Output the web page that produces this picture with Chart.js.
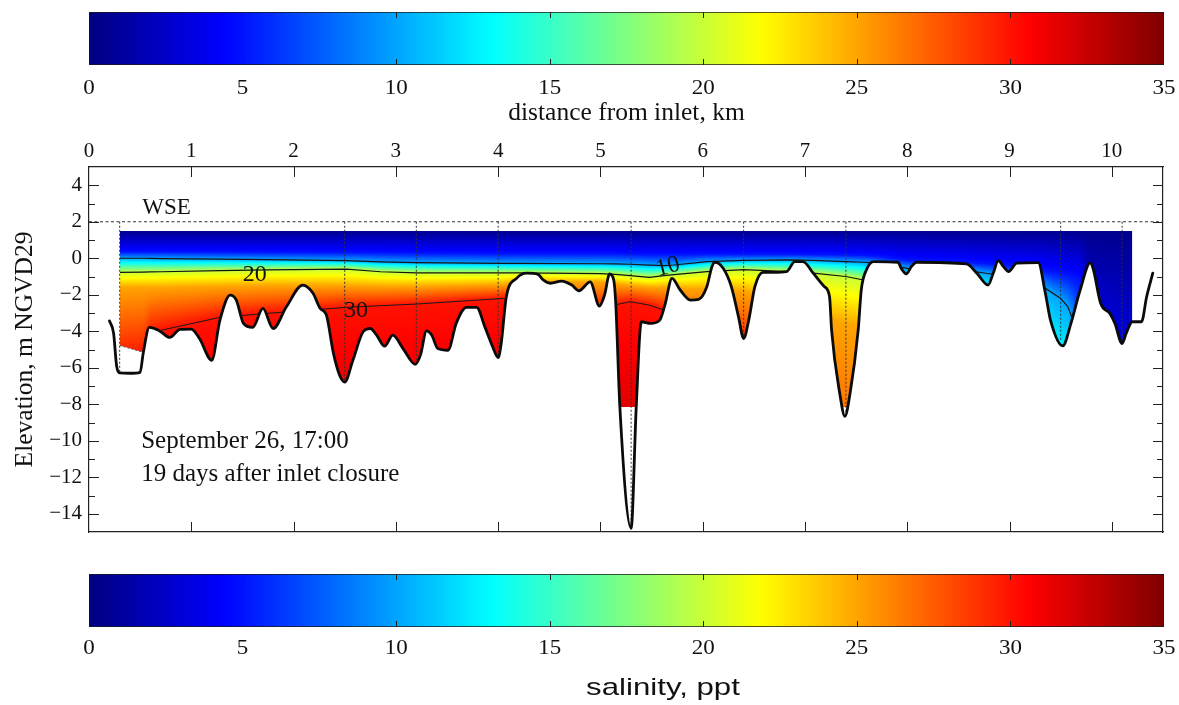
<!DOCTYPE html>
<html>
<head>
<meta charset="utf-8">
<script src="https://cdn.jsdelivr.net/npm/chart.js@4.4.1/dist/chart.umd.min.js"></script>
<style>
  html, body { margin: 0; padding: 0; background: #fff; }
  #wrap { position: relative; width: 1179px; height: 705px; overflow: hidden; background: #fff; }
  #wrap canvas { position: absolute; left: 0; top: 0; }
</style>
</head>
<body>
<div id="wrap">
  <canvas id="barTop" width="1179" height="705"></canvas>
  <canvas id="section" width="1179" height="705"></canvas>
  <canvas id="barBottom" width="1179" height="705"></canvas>
</div>
<script>
// ---------------- axes ----------------
const kmMin = 0, kmMax = 10.5;
const kmTicks = [0, 1, 2, 3, 4, 5, 6, 7, 8, 9, 10];
const elevMin = -15, elevMax = 5;
const elevationTicks = [-14, -12, -10, -8, -6, -4, -2, 0, 2, 4];
const salinityMin = 0, salinityMax = 35;
const salinityTicks = [0, 5, 10, 15, 20, 25, 30, 35];

// ---------------- water levels ----------------
const wseZ = 2.0;            // water surface elevation line
const surfaceZ = 1.5;        // top of the model grid
const waterStartKm = 0.30, waterEndKm = 10.20;

// ---------------- channel bed (m NGVD29) ----------------
const bedKm = [0.20, 0.24, 0.27, 0.30, 0.40, 0.50, 0.53, 0.59, 0.69, 0.79, 0.89, 1.00, 1.08, 1.20, 1.28, 1.38, 1.44, 1.51, 1.60, 1.70,
  1.80, 1.93, 2.09, 2.19, 2.26, 2.32, 2.39, 2.45, 2.50, 2.58, 2.68, 2.75, 2.81, 2.89, 2.97, 3.07, 3.19, 3.24, 3.30, 3.35,
  3.41, 3.51, 3.59, 3.69, 3.79, 3.87, 3.94, 4.00, 4.03, 4.08, 4.18, 4.28, 4.39, 4.44, 4.51, 4.62, 4.72, 4.79, 4.90, 4.99,
  5.04, 5.09, 5.13, 5.15, 5.19, 5.30, 5.35, 5.40, 5.49, 5.58, 5.63, 5.70, 5.78, 5.88, 5.96, 6.04, 6.09, 6.12, 6.20, 6.28,
  6.35, 6.40, 6.45, 6.51, 6.59, 6.69, 6.82, 6.90, 6.98, 7.08, 7.19, 7.24, 7.26, 7.34, 7.39, 7.44, 7.52, 7.55, 7.60, 7.67,
  7.91, 7.94, 7.99, 8.04, 8.09, 8.58, 8.68, 8.79, 8.84, 8.89, 8.94, 8.99, 9.07, 9.28, 9.35, 9.40, 9.52, 9.60, 9.69, 9.79,
  9.82, 9.89, 9.98, 10.03, 10.10, 10.14, 10.20, 10.29, 10.34, 10.40];
const bedZ = [-3.43, -4.10, -5.90, -6.28, -6.30, -6.25, -5.20, -3.79, -3.98, -4.34, -3.90, -3.88, -4.40, -5.59, -3.39, -2.02, -2.29, -3.57, -3.79, -2.75,
  -3.85, -2.66, -1.47, -1.92, -2.75, -3.10, -5.22, -6.41, -6.78, -5.59, -4.03, -3.85, -4.20, -4.82, -4.21, -4.95, -5.81, -5.31, -3.98, -4.21,
  -4.95, -5.04, -3.57, -2.69, -2.69, -3.76, -4.76, -5.44, -4.67, -2.11, -1.10, -0.82, -0.88, -1.19, -1.37, -1.25, -1.47, -1.78, -1.29, -2.62,
  -2.02, -0.86, -1.19, -2.50, -8.15, -14.80, -8.15, -3.48, -3.57, -3.39, -2.57, -1.10, -1.74, -2.29, -2.25, -1.56, -0.46, -0.22, -0.55, -1.56,
  -3.21, -4.40, -3.39, -1.56, -0.77, -0.77, -0.73, -0.18, -0.18, -0.82, -1.56, -2.11, -3.94, -7.42, -8.66, -7.42, -3.94, -1.74, -0.64, -0.18,
  -0.22, -0.55, -0.86, -0.46, -0.22, -0.31, -0.82, -1.47, -0.82, -0.13, -0.46, -0.73, -0.27, -0.24, -1.92, -3.39, -4.80, -3.57, -1.74, -0.24,
  -0.64, -2.47, -3.02, -3.57, -4.67, -4.12, -3.48, -3.48, -2.11, -0.82];

// ---------------- model grid bottom where it lies above the bed ----------------
const gridBottomKm = [0.30, 0.53];
const gridBottomZ = [-4.78, -5.15];
const gridFloorZ = -8.15;

// ---------------- survey stations (vertical profiles) ----------------
const sampleKm = [0.30, 2.50, 3.20, 4.00, 5.30, 6.40, 7.40, 9.50, 10.10];

// ---------------- salinity field: elevation of isohalines along the channel ----------------
const surfaceSalinity = 0.5;
const deepZ = -20, deepSalinity = 35;
const profileKm = [0.30, 0.53, 0.60, 0.71, 1.28, 1.74, 2.52, 2.85, 3.20, 4.05, 4.20, 5.00, 5.15, 5.29, 5.48, 5.62, 5.72, 6.04,
  6.40, 6.85, 7.08, 7.40, 7.57, 7.70, 8.00, 8.50, 8.80, 9.00, 9.30, 9.35, 9.50, 9.57, 9.62, 9.70, 9.80, 10.20];
const iso5Z = [0.35, 0.35, 0.35, 0.35, 0.34, 0.33, 0.32, 0.30, 0.28, 0.25, 0.25, 0.25, 0.24, 0.22, 0.20, 0.20, 0.20, 0.22,
  0.22, 0.22, 0.20, 0.18, 0.15, 0.10, -0.10, -0.20, -0.30, -0.40, -0.50, -0.70, -0.80, -0.90, -1.00, -1.20, -6.00, -9.00];
const iso10Z = [0.00, 0.00, -0.01, -0.02, -0.05, -0.08, -0.13, -0.20, -0.24, -0.28, -0.28, -0.30, -0.31, -0.33, -0.38, -0.40, -0.37, -0.18,
  -0.12, -0.09, -0.12, -0.18, -0.22, -0.26, -0.55, -0.60, -0.85, -1.00, -1.30, -1.65, -2.20, -2.66, -3.39, -6.00, -11.0, -13.0];
const iso20Z = [-0.77, -0.76, -0.75, -0.74, -0.68, -0.64, -0.60, -0.74, -0.80, -0.80, -0.80, -0.84, -0.88, -0.95, -1.05, -0.95, -0.90, -0.73,
  -0.62, -0.73, -0.82, -1.00, -1.19, -3.00, -3.00, -3.00, -3.50, -5.00, -8.00, -9.00, -12.0, -12.0, -12.0, -14.0, -15.0, -16.0];
const iso25Z = [-1.60, -1.60, -1.60, -1.60, -1.55, -1.50, -1.50, -1.55, -1.55, -1.45, -1.30, -1.30, -1.40, -1.50, -1.60, -1.60, -1.65, -1.70,
  -1.80, -2.50, -3.20, -3.60, -3.80, -5.00, -6.00, -6.00, -7.00, -8.00, -10.0, -11.0, -14.0, -14.0, -14.0, -16.0, -17.0, -18.0];
const iso30Z = [-5.60, -5.30, -4.20, -3.94, -3.24, -3.02, -2.69, -2.60, -2.51, -2.20, -2.75, -2.85, -2.55, -2.38, -2.57, -2.84, -3.80, -4.50,
  -5.00, -7.00, -12.0, -18.0, -18.0, -18.0, -18.0, -18.0, -18.0, -18.0, -18.0, -18.0, -18.0, -18.0, -18.0, -18.5, -19.0, -19.5];

// ---------------- annotations ----------------
const contourLabels = ['10', '20', '30'];
const contourLabelKm = [5.66, 1.62, 2.61];
const contourLabelZ = [-0.48, -0.92, -2.89];
const contourLabelAngle = [-15, 0, 0];
const wseLabelKm = 0.52, wseLabelZ = 2.42;
const noteLines = ['September 26, 17:00', '19 days after inlet closure'];
const noteKm = 0.51;
const noteZ = [-10.41, -12.20];

// ---------------- helpers ----------------
Chart.defaults.font.family = '"Liberation Serif", "Times New Roman", serif';
Chart.defaults.color = '#111';

function interp(xs, ys, v) {
  if (v <= xs[0]) return ys[0];
  const n = xs.length - 1;
  if (v >= xs[n]) return ys[n];
  let i = 1;
  while (xs[i] < v) i++;
  const t = (v - xs[i - 1]) / (xs[i] - xs[i - 1]);
  return ys[i - 1] + t * (ys[i] - ys[i - 1]);
}

function jet(s) {
  const t = Math.min(1, Math.max(0, (s - salinityMin) / (salinityMax - salinityMin)));
  const ch = c => Math.round(255 * Math.min(1, Math.max(0, 1.5 - Math.abs(4 * t - c))));
  return [ch(3), ch(2), ch(1)];
}

const isoLevels = [surfaceSalinity, 5, 10, 20, 25, 30, deepSalinity];
function salinityAt(zs, z) {
  if (z >= zs[0]) return isoLevels[0];
  for (let k = 1; k < zs.length; k++) {
    if (z >= zs[k]) {
      const t = (zs[k - 1] - z) / (zs[k - 1] - zs[k]);
      return isoLevels[k - 1] + t * (isoLevels[k] - isoLevels[k - 1]);
    }
  }
  return isoLevels[isoLevels.length - 1];
}

// Restrict drawing to the wetted model grid: below the surface, above the
// smoothed bed line (taken from the bed dataset itself) and above the grid floor.
function clipToWater(chart) {
  const { ctx, chartArea: a, scales: { x, y } } = chart;
  const xl = x.getPixelForValue(waterStartKm), xr = x.getPixelForValue(waterEndKm);
  const yt = y.getPixelForValue(surfaceZ);
  ctx.beginPath();
  ctx.rect(xl, yt, xr - xl, a.bottom - yt);
  ctx.clip();

  const bed = chart.getDatasetMeta(0).dataset;
  bed.updateControlPoints(a, 'x');
  ctx.beginPath();
  bed.path(ctx);
  ctx.lineTo(x.getPixelForValue(bedKm[bedKm.length - 1]), a.top);
  ctx.lineTo(x.getPixelForValue(bedKm[0]), a.top);
  ctx.closePath();
  ctx.clip();

  ctx.beginPath();
  ctx.moveTo(xl, a.top);
  gridBottomKm.forEach((k, i) => ctx.lineTo(x.getPixelForValue(k), y.getPixelForValue(gridBottomZ[i])));
  const kEnd = gridBottomKm[gridBottomKm.length - 1];
  ctx.lineTo(x.getPixelForValue(kEnd) + 0.5, y.getPixelForValue(gridFloorZ));
  ctx.lineTo(xr, y.getPixelForValue(gridFloorZ));
  ctx.lineTo(xr, a.top);
  ctx.closePath();
  ctx.clip();
}

function salinityImage(chart) {
  const { chartArea: a, scales: { x, y } } = chart;
  const w = Math.round(a.right - a.left), h = Math.round(a.bottom - a.top);
  const off = document.createElement('canvas');
  off.width = w; off.height = h;
  const octx = off.getContext('2d');
  const img = octx.createImageData(w, h);
  const r0 = Math.max(0, Math.floor(y.getPixelForValue(surfaceZ) - a.top) - 2);
  const r1 = Math.min(h, Math.ceil(y.getPixelForValue(gridFloorZ - 0.6) - a.top));
  for (let i = 0; i < w; i++) {
    const km = x.getValueForPixel(a.left + i + 0.5);
    const zs = [surfaceZ, interp(profileKm, iso5Z, km), interp(profileKm, iso10Z, km), interp(profileKm, iso20Z, km),
      interp(profileKm, iso25Z, km), interp(profileKm, iso30Z, km), deepZ];
    for (let j = r0; j < r1; j++) {
      const c = jet(salinityAt(zs, y.getValueForPixel(a.top + j + 0.5)));
      const k = (j * w + i) * 4;
      img.data[k] = c[0]; img.data[k + 1] = c[1]; img.data[k + 2] = c[2]; img.data[k + 3] = 255;
    }
  }
  octx.putImageData(img, 0, 0);
  return off;
}

// slightly widened digits on the colour-bar labels
function widenDigits(ctx, factor) {
  const draw = ctx.fillText.bind(ctx);
  ctx.fillText = function (text, px, py, maxWidth) {
    if (!/^[0-9]+$/.test(String(text))) return maxWidth === undefined ? draw(text, px, py) : draw(text, px, py, maxWidth);
    ctx.save();
    ctx.translate(px, py);
    ctx.scale(factor, 1);
    draw(text, 0, 0);
    ctx.restore();
  };
}

function jetGradient(chart) {
  const sx = chart.scales && chart.scales.x;
  if (!sx) return null;
  const x0 = sx.getPixelForValue(salinityMin), x1 = sx.getPixelForValue(salinityMax);
  if (!isFinite(x0) || !isFinite(x1) || x1 === x0) return null;
  const g = chart.ctx.createLinearGradient(x0, 0, x1, 0);
  for (let s = salinityMin; s <= salinityMax + 1e-9; s += 0.25) {
    g.addColorStop((s - salinityMin) / (salinityMax - salinityMin), 'rgb(' + jet(s).join(',') + ')');
  }
  return g;
}

// ---------------- plugins ----------------
const sectionPlugin = {
  id: 'salinitySection',
  beforeDatasetsDraw(chart) {
    const { ctx, chartArea: a } = chart;
    const img = salinityImage(chart);
    ctx.save();
    clipToWater(chart);
    ctx.drawImage(img, a.left, a.top);
    ctx.restore();
  },
  beforeDatasetDraw(chart, args) {
    if (chart.data.datasets[args.index].clipToWater) {
      chart.ctx.save();
      clipToWater(chart);
    }
  },
  afterDatasetDraw(chart, args) {
    if (chart.data.datasets[args.index].clipToWater) chart.ctx.restore();
  },
  afterDatasetsDraw(chart) {
    const { ctx, scales: { x, y } } = chart;
    ctx.save();
    ctx.fillStyle = '#111';
    ctx.textAlign = 'center';
    ctx.textBaseline = 'middle';
    ctx.font = '24px "Liberation Serif"';
    contourLabels.forEach((t, i) => {
      ctx.save();
      ctx.translate(x.getPixelForValue(contourLabelKm[i]), y.getPixelForValue(contourLabelZ[i]));
      ctx.rotate(contourLabelAngle[i] * Math.PI / 180);
      ctx.fillText(t, 0, 0);
      ctx.restore();
    });
    ctx.textAlign = 'left';
    ctx.textBaseline = 'alphabetic';
    ctx.font = '23px "Liberation Serif"';
    ctx.fillText('WSE', x.getPixelForValue(wseLabelKm), y.getPixelForValue(wseLabelZ));
    ctx.font = '25px "Liberation Serif"';
    noteLines.forEach((t, i) => ctx.fillText(t, x.getPixelForValue(noteKm), y.getPixelForValue(noteZ[i])));
    ctx.restore();
  },
  afterDraw(chart) {
    // inward tick marks on all four sides of the frame
    const { ctx, chartArea: a, scales: { x, y } } = chart;
    ctx.save();
    ctx.strokeStyle = '#222';
    ctx.lineWidth = 1;
    ctx.beginPath();
    kmTicks.forEach(v => {
      if (v <= kmMin || v >= kmMax) return;
      const px = Math.round(x.getPixelForValue(v)) + 0.5;
      ctx.moveTo(px, a.top); ctx.lineTo(px, a.top + 10);
      ctx.moveTo(px, a.bottom); ctx.lineTo(px, a.bottom - 10);
    });
    elevationTicks.forEach((v, i) => {
      const py = Math.round(y.getPixelForValue(v)) + 0.5;
      ctx.moveTo(a.left, py); ctx.lineTo(a.left + 10, py);
      ctx.moveTo(a.right, py); ctx.lineTo(a.right - 10, py);
      if (i < elevationTicks.length - 1) {
        const pm = Math.round(y.getPixelForValue((v + elevationTicks[i + 1]) / 2)) + 0.5;
        ctx.moveTo(a.left, pm); ctx.lineTo(a.left + 6, pm);
        ctx.moveTo(a.right, pm); ctx.lineTo(a.right - 6, pm);
      }
    });
    ctx.stroke();
    ctx.restore();
  }
};

const colorbarFill = {
  id: 'colorbarFill',
  beforeDatasetsDraw(chart) {
    // the jet gradient needs laid-out scales, so it is attached to the bar right before drawing
    const g = jetGradient(chart);
    const bar = chart.getDatasetMeta(0).data[0];
    if (g && bar && bar.options) bar.options.backgroundColor = g;
  },
  afterDatasetsDraw(chart) {
    const { ctx, chartArea: a, scales: { x } } = chart;
    ctx.save();
    ctx.strokeStyle = '#222';
    ctx.lineWidth = 1;
    ctx.beginPath();
    salinityTicks.forEach(v => {
      if (v <= salinityMin || v >= salinityMax) return;
      const px = Math.round(x.getPixelForValue(v)) + 0.5;
      ctx.moveTo(px, a.top); ctx.lineTo(px, a.top + 6);
      ctx.moveTo(px, a.bottom); ctx.lineTo(px, a.bottom - 6);
    });
    ctx.stroke();
    ctx.restore();
  }
};

const salinityTitle = {
  id: 'salinityTitle',
  afterDraw(chart) {
    const { ctx } = chart;
    ctx.save();
    ctx.fillStyle = '#111';
    ctx.font = '24px "Liberation Sans"';
    ctx.textAlign = 'center';
    ctx.textBaseline = 'alphabetic';
    ctx.translate(663, 695);
    ctx.scale(1.3, 1);
    ctx.fillText('salinity, ppt', 0, 0);
    ctx.restore();
  }
};

// ---------------- colour bars ----------------
function colorbar(canvasId, padTop, padBottom, axisHeight, labelPad, title, extraPlugins) {
  const canvas = document.getElementById(canvasId);
  widenDigits(canvas.getContext('2d'), 1.15);
  return new Chart(canvas, {
    type: 'bar',
    data: {
      labels: [''],
      datasets: [{
        data: [[salinityMin, salinityMax]],
        backgroundColor: 'rgb(0,0,128)',
        borderColor: '#1a1a1a',
        borderWidth: 1,
        borderSkipped: false,
        barPercentage: 1,
        categoryPercentage: 1
      }]
    },
    options: {
      indexAxis: 'y',
      responsive: false,
      animation: false,
      events: [],
      devicePixelRatio: 1,
      layout: { padding: { top: padTop, bottom: padBottom, left: 89, right: 15 } },
      plugins: { legend: { display: false }, tooltip: { enabled: false } },
      scales: {
        x: {
          type: 'linear', position: 'bottom', min: salinityMin, max: salinityMax,
          afterBuildTicks: s => { s.ticks = salinityTicks.map(v => ({ value: v })); },
          afterFit: s => { s.height = axisHeight; s.paddingLeft = 0; s.paddingRight = 0; },
          grid: { display: false, drawTicks: false },
          border: { display: false },
          ticks: { padding: labelPad, font: { size: 20 }, color: '#111', maxRotation: 0, autoSkip: false },
          title: title
        },
        y: { display: false }
      }
    },
    plugins: [colorbarFill].concat(extraPlugins)
  });
}

colorbar('barTop', 12, 570, 70, 12,
  { display: true, text: 'distance from inlet, km', font: { size: 25.5 }, color: '#111', padding: { top: 0, bottom: 6 } }, []);
colorbar('barBottom', 574, 38, 40, 10, { display: false }, [salinityTitle]);

// ---------------- longitudinal section ----------------
const pts = (xs, ys) => xs.map((v, i) => ({ x: v, y: ys[i] }));
const stationLines = [];
sampleKm.forEach(k => {
  stationLines.push({ x: k, y: wseZ }, { x: k, y: interp(bedKm, bedZ, k) }, { x: k, y: null });
});

const frameBorder = { display: true, color: '#222', width: 1.2 };

new Chart(document.getElementById('section'), {
  type: 'line',
  data: {
    datasets: [
      { label: 'bed', data: pts(bedKm, bedZ), borderColor: '#0b0b0b', borderWidth: 2.8,
        cubicInterpolationMode: 'monotone', borderJoinStyle: 'round', borderCapStyle: 'round', order: 0 },
      { label: 'grid bottom', data: pts(gridBottomKm, gridBottomZ), borderColor: '#555', borderWidth: 1,
        borderDash: [2, 2], order: 1 },
      { label: '10 ppt', data: pts(profileKm, iso10Z), borderColor: '#151515', borderWidth: 1.2, clipToWater: true, order: 2 },
      { label: '20 ppt', data: pts(profileKm, iso20Z), borderColor: '#151515', borderWidth: 1.2, clipToWater: true, order: 2 },
      { label: '30 ppt', data: pts(profileKm, iso30Z), borderColor: '#1a1a1a', borderWidth: 1.0, clipToWater: true, order: 2 },
      { label: 'stations', data: stationLines, borderColor: '#333', borderWidth: 1, borderDash: [2, 2], order: 3 },
      { label: 'WSE', data: [{ x: kmMin, y: wseZ }, { x: kmMax, y: wseZ }], borderColor: '#333', borderWidth: 1,
        borderDash: [3, 2.5], order: 4 }
    ]
  },
  options: {
    responsive: false,
    animation: false,
    events: [],
    devicePixelRatio: 1,
    layout: { padding: { top: 120, left: 0, right: 0, bottom: 0 } },
    plugins: { legend: { display: false }, tooltip: { enabled: false } },
    elements: { point: { radius: 0 }, line: { tension: 0, fill: false } },
    scales: {
      x: {
        type: 'linear', position: 'bottom', min: kmMin, max: kmMax,
        afterBuildTicks: s => { s.ticks = kmTicks.map(v => ({ value: v })); },
        afterFit: s => { s.height = 173; },
        ticks: { display: false },
        grid: { display: false, drawTicks: false },
        border: frameBorder
      },
      xTop: {
        type: 'linear', position: 'top', min: kmMin, max: kmMax,
        afterBuildTicks: s => { s.ticks = kmTicks.map(v => ({ value: v })); },
        afterFit: s => { s.height = 47; },
        ticks: { padding: 3, font: { size: 21 }, color: '#111', maxRotation: 0, autoSkip: false },
        grid: { display: false, drawTicks: false },
        border: frameBorder
      },
      y: {
        type: 'linear', position: 'left', min: elevMin, max: elevMax,
        afterBuildTicks: s => { s.ticks = elevationTicks.map(v => ({ value: v })); },
        afterFit: s => { s.width = 89; },
        ticks: { padding: 7, font: { size: 21 }, color: '#111', autoSkip: false,
          callback: v => String(v).replace('-', '\u2212') },
        grid: { display: false, drawTicks: false },
        border: frameBorder,
        title: { display: true, text: 'Elevation, m NGVD29', font: { size: 25.5 }, color: '#111', padding: { top: 10, bottom: 0 } }
      },
      yRight: {
        type: 'linear', position: 'right', min: elevMin, max: elevMax,
        afterFit: s => { s.width = 16; },
        ticks: { display: false },
        grid: { display: false, drawTicks: false },
        border: frameBorder
      }
    }
  },
  plugins: [sectionPlugin]
});
</script>
</body>
</html>
